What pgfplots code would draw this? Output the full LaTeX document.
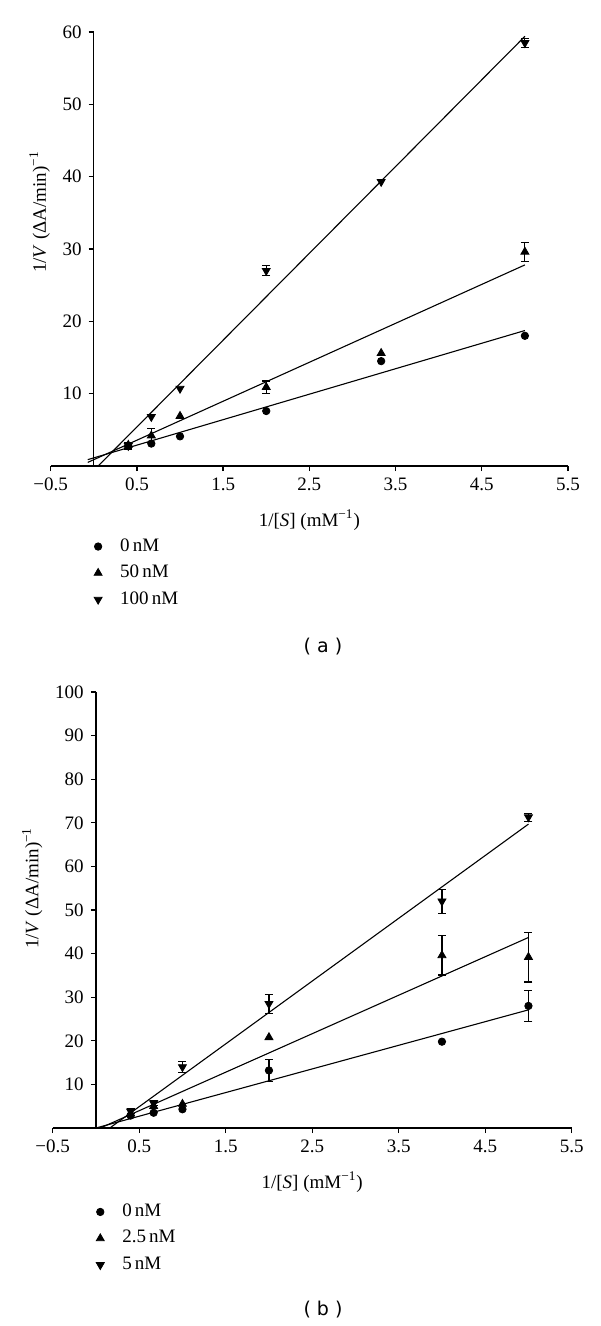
\documentclass[border=0pt]{standalone}
\usepackage{fontspec}
\setmainfont{Liberation Serif}
\newfontfamily\capsans{DejaVu Sans}
\usepackage{pgfplots}
\pgfplotsset{compat=1.18}
\usepackage{pgfplotstable}

% Panel (a)
\pgfplotstableread{
x y
0.4 2.75
0.667 3.1
1.0 4.1
2.0 7.6
3.333 14.5
5.0 18.0
}\aZero
\pgfplotstableread{
x y
0.4 2.9
0.667 4.2
1.0 6.9
2.0 10.9
3.333 15.6
5.0 29.6
}\aFifty
\pgfplotstableread{
x y
0.4 2.8
0.667 6.8
1.0 10.7
2.0 27.0
3.333 39.3
5.0 58.5
}\aHundred
% Panel (b)
\pgfplotstableread{
x y
0.4 2.85
0.667 3.5
1.0 4.3
2.0 13.2
4.0 19.8
5.0 28.0
}\bZero
\pgfplotstableread{
x y
0.4 3.3
0.667 5.0
1.0 5.5
2.0 20.8
4.0 39.6
5.0 39.2
}\bTwoFive
\pgfplotstableread{
x y
0.4 3.85
0.667 5.7
1.0 14.0
2.0 28.5
4.0 52.0
5.0 71.3
}\bFive

\pgfplotsset{
  kin/.style={
    scale only axis,
    xmin=-0.5, xmax=5.5, ymin=0,
    axis x line=bottom, axis y line=middle,
    axis line style={-, line width=0.65pt, black},
    tick style={line width=0.65pt, black},
    tick align=outside,
    major tick length=2.6pt,
    xtick={-0.5,0.5,1.5,2.5,3.5,4.5,5.5},
    xticklabels={−0.5,0.5,1.5,2.5,3.5,4.5,5.5},
    tick label style={font=\fontsize{9.5}{10}\selectfont},
    label style={font=\fontsize{9.5}{11}\selectfont},
    xlabel={1/[\textit{S}] (mM\textsuperscript{−1})},
    ylabel={1/\textit{V} (ΔA/min)\textsuperscript{−1}},
    xlabel style={at={(ticklabel cs:0.5)}, anchor=near ticklabel},
    xlabel shift=2.5pt,
    ylabel shift=-0.5pt,
    clip=false,
    legend cell align=left,
    legend image code/.code={\draw[#1] plot coordinates {(0pt,0pt)};},
    legend style={draw=none, fill=none, inner sep=0pt, outer sep=0pt,
      font=\fontsize{9.5}{11}\selectfont,
      nodes={inner sep=0pt, text height=6.5pt, text depth=2pt},
      row sep=4.75pt,
      /tikz/every odd column/.append style={column sep=9pt}},
  },
  fitline/.style={black, line width=0.55pt, no marks, forget plot},
  ebar/.style={only marks, mark=*, mark size=0pt, black, forget plot,
    error bars/.cd, y dir=both, y explicit,
    error mark=-,
    error bar style={draw=black, line width=0.55pt},
    error mark options={rotate=90, draw=black, line width=0.55pt, mark size=2pt}},
  mcirc/.style={only marks, black, mark=*, mark size=1.85pt},
  mtri/.style={only marks, black, mark=triangle*, mark size=2.3pt},
  minv/.style={only marks, black, mark=triangle*, mark size=2.3pt, mark options={rotate=180}},
}

\begin{document}
\begin{tikzpicture}
\useasboundingbox (0,0) rectangle (300pt,-663pt);

% ---------------- Panel (a)
\begin{axis}[kin,
  at={(25.35pt,-233pt)}, anchor=south west,
  width=258.65pt, height=217pt,
  ymax=60, ytick={10,20,30,40,50,60},
  yticklabels={10,20,30,40,50,60},
  ylabel style={at={(ticklabel cs:0.585)}, rotate=90, anchor=near ticklabel},
  legend style={at={(axis description cs:0.084,-0.166)}, anchor=north west},
]
\addplot[mcirc] table {\aZero};
\addlegendentry{0\,nM}
\addplot[mtri] table {\aFifty};
\addlegendentry{50\,nM}
\addplot[minv] table {\aHundred};
\addlegendentry{100\,nM}

\addplot[ebar] coordinates {(0.667,4.2) +- (0,1.0) (2.0,10.9) +- (0,0.85) (5.0,29.6) +- (0,1.3)};
\addplot[ebar] coordinates {(0.4,2.8) +- (0,0.45) (2.0,27.0) +- (0,0.7) (5.0,58.5) +- (0,0.6)};

\addplot[fitline] coordinates {(-0.07,0.88) (5.0,18.73)};
\addplot[fitline] coordinates {(-0.07,0.5) (5.0,27.8)};
\addplot[fitline] coordinates {(0.05,0) (5.0,59.4)};
\end{axis}

% ---------------- Panel (b)
\begin{axis}[kin,
  at={(26.35pt,-564pt)}, anchor=south west,
  width=259.5pt, height=218pt,
  ymax=100, ytick={10,20,30,40,50,60,70,80,90,100},
  yticklabels={10,20,30,40,50,60,70,80,90,100},
  ylabel style={at={(ticklabel cs:0.55)}, rotate=90, anchor=near ticklabel},
  legend style={at={(axis description cs:0.084,-0.173)}, anchor=north west},
]
\addplot[mcirc] table {\bZero};
\addlegendentry{0\,nM}
\addplot[mtri] table {\bTwoFive};
\addlegendentry{2.5\,nM}
\addplot[minv] table {\bFive};
\addlegendentry{5\,nM}

\addplot[ebar] coordinates {(2.0,13.2) +- (0,2.45) (5.0,28.0) +- (0,3.6)};
\addplot[ebar] coordinates {(4.0,39.6) +- (0,4.5) (5.0,39.2) +- (0,5.7)};
\addplot[ebar] coordinates {(0.4,3.85) +- (0,0.5) (0.667,5.7) +- (0,0.6) (1.0,14.0) +- (0,1.2) (2.0,28.5) +- (0,2.2) (4.0,52.0) +- (0,2.75) (5.0,71.3) +- (0,0.9)};

\addplot[fitline] coordinates {(0.0,0.0) (5.0,27.1)};
\addplot[fitline] coordinates {(0.05,0.0) (5.0,43.7)};
\addplot[fitline] coordinates {(0.16,0.0) (5.0,69.7)};
\end{axis}

\node[font=\capsans\fontsize{9.5}{11}\selectfont] at (161.5pt,-323.5pt) {( a )};
\node[font=\capsans\fontsize{9.5}{11}\selectfont] at (161.5pt,-655pt) {( b )};
\end{tikzpicture}
\end{document}
